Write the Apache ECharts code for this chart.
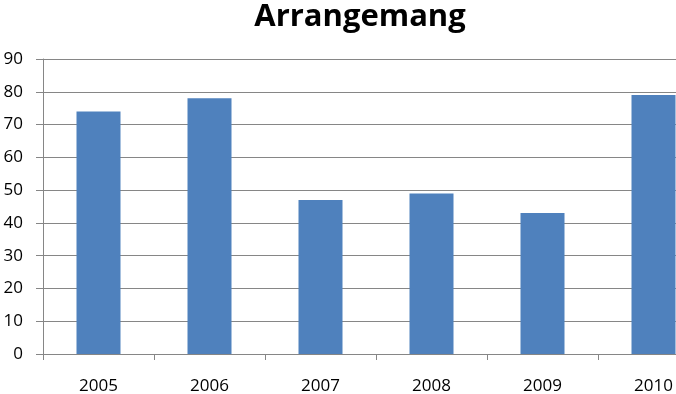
<!DOCTYPE html>
<html><head><meta charset="utf-8">
<script src="https://cdn.jsdelivr.net/npm/echarts@6/dist/echarts.min.js"></script>
<style>html,body{margin:0;padding:0;background:#fff}#c{width:676px;height:394px}</style>
</head><body><div id="c"></div>
<script>
const categories = ['2005','2006','2007','2008','2009','2010'];
const values = [74, 78, 47, 49, 43, 79];
const yTicks = [0,10,20,30,40,50,60,70,80,90];
const titleText = 'Arrangemang';

const chart = echarts.init(document.getElementById('c'), null, {renderer:'canvas'});
chart.setOption({
  animation:false,
  title:{text:titleText,left:355,top:-3,textAlign:'center',
    textStyle:{fontFamily:'Open Sans',fontWeight:'bold',fontSize:31,color:'#000'}},
  grid:{left:43,width:666,top:59,bottom:40,containLabel:false,outerBoundsMode:'none'},
  xAxis:{type:'category',data:categories,
    axisLine:{lineStyle:{color:'#868686',width:1}},
    axisTick:{show:true,length:6,alignWithLabel:false,lineStyle:{color:'#868686'}},
    axisLabel:{margin:24,color:'#000',fontFamily:'Open Sans',fontSize:17}},
  yAxis:{type:'value',min:yTicks[0],max:yTicks[yTicks.length-1],interval:10,
    axisLine:{show:true,lineStyle:{color:'#868686'}},
    axisTick:{show:true,length:7,lineStyle:{color:'#868686'}},
    splitLine:{lineStyle:{color:'#868686'}},
    axisLabel:{margin:20,color:'#000',fontFamily:'Open Sans',fontSize:17}},
  series:[{type:'bar',data:values,barWidth:44,itemStyle:{color:'#4F81BD'}}]
});
</script></body></html>
